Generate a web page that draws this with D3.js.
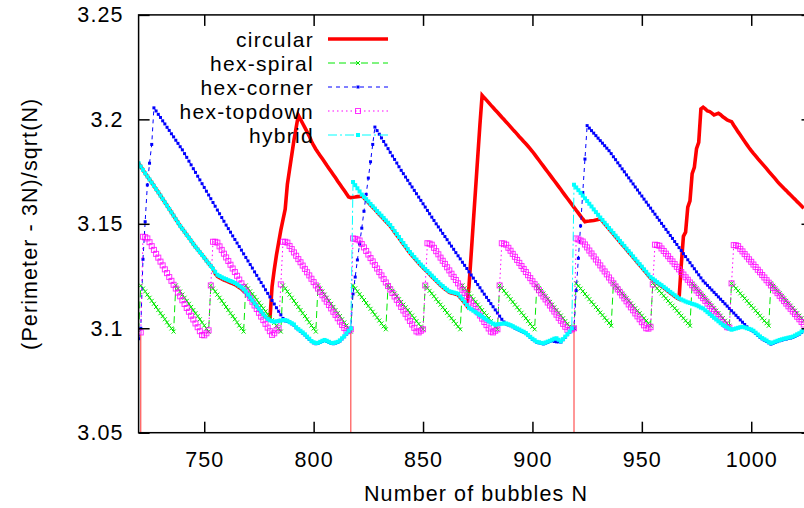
<!DOCTYPE html>
<html>
<head>
<meta charset="utf-8">
<script src="https://cdn.jsdelivr.net/npm/d3@7/dist/d3.min.js"></script>
<style>
html,body{margin:0;padding:0;background:#fff;}
svg{display:block;}
</style>
</head>
<body>
<svg id="chart" width="804" height="508"></svg>
<script>
// N runs from nStart, one value per integer N
const nStart = 720;

const circular = [
3.1790,3.1774,3.1758,3.1742,3.1727,3.1712,3.1697,3.1682,3.1666,3.1651,
3.1635,3.1619,3.1603,3.1587,3.1571,3.1555,3.1539,3.1522,3.1506,3.1490,
3.1476,3.1462,3.1447,3.1433,3.1419,3.1404,3.1390,3.1377,3.1364,3.1351,
3.1338,3.1324,3.1311,3.1298,3.1285,3.1262,3.1248,3.1242,3.1236,3.1231,
3.1227,3.1222,3.1218,3.1214,3.1209,3.1202,3.1195,3.1188,3.1178,3.1170,
3.1158,3.1145,3.1132,3.1118,3.1105,3.1092,3.1079,3.1066,3.1055,3.1045,
3.1040,3.1200,3.1280,3.1350,3.1410,3.1470,3.1520,3.1570,3.1690,3.1760,
3.1830,3.1900,3.1960,3.2020,3.2000,3.1980,3.1960,3.1940,3.1920,3.1895,
3.1875,3.1857,3.1841,3.1826,3.1811,3.1796,3.1780,3.1765,3.1750,3.1735,
3.1720,3.1704,3.1689,3.1674,3.1659,3.1644,3.1628,3.1625,3.1627,3.1628,
3.1630,3.1631,3.1633,3.1624,3.1613,3.1602,3.1590,3.1579,3.1568,3.1556,
3.1545,3.1534,3.1523,3.1511,3.1500,3.1489,3.1475,3.1460,3.1446,3.1432,
3.1417,3.1403,3.1389,3.1374,3.1360,3.1348,3.1336,3.1324,3.1312,3.1300,
3.1290,3.1279,3.1269,3.1258,3.1247,3.1237,3.1226,3.1216,3.1205,3.1197,
3.1188,3.1180,3.1172,3.1169,3.1166,3.1163,3.1160,3.1147,3.1135,3.1121,
3.1107,3.1200,3.1355,3.1510,3.1665,3.1820,3.1975,3.2115,3.2103,3.2092,
3.2080,3.2068,3.2057,3.2045,3.2034,3.2022,3.2010,3.1999,3.1987,3.1976,
3.1964,3.1952,3.1941,3.1929,3.1917,3.1906,3.1894,3.1883,3.1871,3.1859,
3.1846,3.1832,3.1818,3.1804,3.1790,3.1776,3.1762,3.1748,3.1734,3.1720,
3.1706,3.1692,3.1678,3.1664,3.1649,3.1635,3.1621,3.1607,3.1593,3.1579,
3.1565,3.1551,3.1537,3.1523,3.1510,3.1512,3.1513,3.1515,3.1516,3.1518,
3.1520,3.1525,3.1513,3.1500,3.1488,3.1475,3.1463,3.1451,3.1438,3.1426,
3.1413,3.1401,3.1389,3.1376,3.1364,3.1352,3.1339,3.1327,3.1314,3.1302,
3.1290,3.1277,3.1265,3.1252,3.1240,3.1232,3.1224,3.1216,3.1208,3.1201,
3.1193,3.1185,3.1177,3.1169,3.1161,3.1153,3.1145,3.1140,3.1300,3.1440,
3.1460,3.1580,3.1610,3.1740,3.1770,3.1860,3.1890,3.2050,3.2058,3.2050,
3.2040,3.2037,3.2030,3.2021,3.2025,3.2029,3.2022,3.2012,3.2005,3.1997,
3.1993,3.1989,3.1972,3.1956,3.1940,3.1925,3.1909,3.1894,3.1879,3.1864,
3.1850,3.1837,3.1825,3.1812,3.1800,3.1788,3.1776,3.1764,3.1751,3.1739,
3.1727,3.1715,3.1702,3.1690,3.1680,3.1669,3.1659,3.1648,3.1638,3.1627,
3.1617,3.1606,3.1596,3.1585,3.1574
];

const hexSpiral = [
3.0990,3.1205,3.1190,3.1176,3.1161,3.1146,3.1131,3.1117,3.1102,3.1087,
3.1072,3.1058,3.1043,3.1028,3.1013,3.0999,3.0984,3.1205,3.1190,3.1176,
3.1161,3.1146,3.1131,3.1117,3.1102,3.1087,3.1072,3.1058,3.1043,3.1028,
3.1013,3.0999,3.0984,3.1205,3.1190,3.1176,3.1161,3.1146,3.1131,3.1117,
3.1102,3.1087,3.1072,3.1058,3.1043,3.1028,3.1013,3.0999,3.0984,3.1205,
3.1191,3.1177,3.1164,3.1150,3.1136,3.1122,3.1108,3.1095,3.1081,3.1067,
3.1053,3.1039,3.1026,3.1012,3.0998,3.0984,3.1205,3.1190,3.1176,3.1161,
3.1146,3.1131,3.1117,3.1102,3.1087,3.1072,3.1058,3.1043,3.1028,3.1013,
3.0999,3.0984,3.1205,3.1190,3.1176,3.1161,3.1146,3.1131,3.1117,3.1102,
3.1087,3.1072,3.1058,3.1043,3.1028,3.1013,3.0999,3.0984,3.1205,3.1191,
3.1177,3.1163,3.1149,3.1135,3.1121,3.1107,3.1093,3.1079,3.1065,3.1051,
3.1037,3.1023,3.1009,3.0995,3.1205,3.1192,3.1179,3.1166,3.1153,3.1139,
3.1126,3.1113,3.1100,3.1087,3.1074,3.1061,3.1048,3.1034,3.1021,3.1008,
3.0995,3.1205,3.1192,3.1179,3.1166,3.1153,3.1139,3.1126,3.1113,3.1100,
3.1087,3.1074,3.1061,3.1048,3.1034,3.1021,3.1008,3.0995,3.1205,3.1192,
3.1179,3.1166,3.1153,3.1139,3.1126,3.1113,3.1100,3.1087,3.1074,3.1061,
3.1048,3.1034,3.1021,3.1008,3.0995,3.1205,3.1192,3.1179,3.1166,3.1153,
3.1139,3.1126,3.1113,3.1100,3.1087,3.1074,3.1061,3.1048,3.1034,3.1021,
3.1008,3.0995,3.1205,3.1192,3.1179,3.1166,3.1153,3.1139,3.1126,3.1113,
3.1100,3.1087,3.1074,3.1061,3.1048,3.1034,3.1021,3.1008,3.0995,3.1000,
3.1215,3.1202,3.1190,3.1177,3.1164,3.1152,3.1139,3.1126,3.1113,3.1101,
3.1088,3.1075,3.1063,3.1050,3.1037,3.1025,3.1012,3.1215,3.1203,3.1191,
3.1179,3.1167,3.1155,3.1143,3.1131,3.1119,3.1108,3.1096,3.1084,3.1072,
3.1060,3.1048,3.1036,3.1024,3.1012,3.1215,3.1203,3.1191,3.1179,3.1167,
3.1155,3.1143,3.1131,3.1119,3.1108,3.1096,3.1084,3.1072,3.1060,3.1048,
3.1036,3.1024,3.1012,3.1215,3.1203,3.1191,3.1179,3.1167,3.1155,3.1143,
3.1131,3.1119,3.1108,3.1096,3.1084,3.1072,3.1060,3.1048,3.1036,3.1024,
3.1012,3.1215,3.1203,3.1191,3.1179,3.1167,3.1155,3.1143,3.1131,3.1119,
3.1108,3.1096,3.1084,3.1072,3.1060,3.1048,3.1036,3.1024,3.1012,3.1215,
3.1203,3.1191,3.1179,3.1167,3.1155,3.1143,3.1131,3.1119,3.1108,3.1096,
3.1084,3.1072,3.1060,3.1048,3.1036
];

const hexCorner = [
3.0950,3.1000,3.1330,3.1510,3.1686,3.1790,3.1880,3.2055,3.2040,3.2024,
3.2009,3.1993,3.1978,3.1962,3.1947,3.1931,3.1916,3.1900,3.1885,3.1869,
3.1854,3.1836,3.1818,3.1800,3.1782,3.1764,3.1746,3.1728,3.1710,3.1692,
3.1674,3.1656,3.1638,3.1620,3.1602,3.1584,3.1566,3.1548,3.1530,3.1512,
3.1494,3.1477,3.1460,3.1442,3.1425,3.1408,3.1391,3.1374,3.1356,3.1339,
3.1322,3.1305,3.1288,3.1270,3.1253,3.1236,3.1219,3.1202,3.1184,3.1167,
3.1150,3.1133,3.1116,3.1098,3.1081,3.1064,3.1047,3.1035,3.1033,3.1027,
3.1021,3.1015,3.1002,3.0993,3.0985,3.0977,3.0968,3.0957,3.0947,3.0936,
3.0930,3.0926,3.0927,3.0932,3.0937,3.0941,3.0937,3.0932,3.0927,3.0926,
3.0929,3.0932,3.0939,3.0949,3.0959,3.0972,3.0985,3.1000,3.1164,3.1245,
3.1327,3.1403,3.1479,3.1560,3.1641,3.1719,3.1797,3.1880,3.1963,3.1946,
3.1929,3.1911,3.1894,3.1877,3.1860,3.1842,3.1825,3.1808,3.1791,3.1773,
3.1756,3.1740,3.1724,3.1708,3.1692,3.1676,3.1660,3.1644,3.1628,3.1612,
3.1596,3.1580,3.1564,3.1548,3.1532,3.1516,3.1500,3.1485,3.1470,3.1454,
3.1439,3.1424,3.1408,3.1393,3.1378,3.1362,3.1347,3.1332,3.1316,3.1301,
3.1286,3.1270,3.1255,3.1240,3.1224,3.1209,3.1194,3.1178,3.1163,3.1148,
3.1133,3.1118,3.1103,3.1088,3.1073,3.1058,3.1043,3.1030,3.1020,3.1016,
3.1012,3.1007,3.1001,3.0996,3.0991,3.0985,3.0980,3.0974,3.0965,3.0956,
3.0947,3.0940,3.0932,3.0930,3.0927,3.0925,3.0929,3.0933,3.0937,3.0940,
3.0937,3.0935,3.0935,3.0934,3.0945,3.0957,3.0969,3.0981,3.0997,3.1000,
3.1180,3.1335,3.1490,3.1650,3.1810,3.1970,3.1958,3.1946,3.1934,3.1922,
3.1910,3.1898,3.1886,3.1874,3.1862,3.1850,3.1836,3.1821,3.1807,3.1792,
3.1778,3.1763,3.1749,3.1734,3.1720,3.1705,3.1691,3.1676,3.1662,3.1647,
3.1633,3.1618,3.1604,3.1589,3.1575,3.1560,3.1546,3.1531,3.1517,3.1502,
3.1488,3.1473,3.1459,3.1444,3.1430,3.1415,3.1401,3.1386,3.1372,3.1357,
3.1343,3.1328,3.1314,3.1299,3.1285,3.1270,3.1256,3.1241,3.1227,3.1216,
3.1205,3.1194,3.1183,3.1172,3.1161,3.1150,3.1139,3.1128,3.1117,3.1106,
3.1095,3.1084,3.1073,3.1062,3.1051,3.1040,3.1029,3.1018,3.1007,3.0996,
3.0991,3.0984,3.0975,3.0966,3.0957,3.0949,3.0943,3.0937,3.0930,3.0924,
3.0928,3.0932,3.0936,3.0940,3.0943,3.0946,3.0948,3.0951,3.0953,3.0956,
3.0961,3.0967,3.0972,3.0980,3.0988
];

const hexTopdown = [
3.0985,3.0980,3.1438,3.1436,3.1430,3.1412,3.1393,3.1375,3.1356,3.1338,
3.1319,3.1301,3.1282,3.1264,3.1245,3.1227,3.1208,3.1190,3.1171,3.1153,
3.1134,3.1116,3.1097,3.1079,3.1060,3.1042,3.1023,3.1005,3.0986,3.0968,
3.0966,3.0976,3.0990,3.1205,3.1414,3.1414,3.1410,3.1392,3.1375,3.1357,
3.1339,3.1322,3.1304,3.1286,3.1269,3.1251,3.1233,3.1215,3.1198,3.1180,
3.1162,3.1145,3.1127,3.1109,3.1092,3.1074,3.1056,3.1039,3.1021,3.1003,
3.0986,3.0968,3.0976,3.0990,3.1000,3.1210,3.1414,3.1414,3.1410,3.1394,
3.1379,3.1363,3.1347,3.1331,3.1316,3.1300,3.1284,3.1268,3.1253,3.1237,
3.1221,3.1205,3.1190,3.1174,3.1158,3.1142,3.1127,3.1111,3.1095,3.1079,
3.1064,3.1048,3.1032,3.1016,3.1001,3.0985,3.0988,3.0995,3.1430,3.1428,
3.1425,3.1420,3.1403,3.1387,3.1370,3.1353,3.1336,3.1320,3.1303,3.1286,
3.1269,3.1253,3.1236,3.1219,3.1202,3.1186,3.1169,3.1152,3.1136,3.1119,
3.1102,3.1085,3.1069,3.1052,3.1035,3.1018,3.1002,3.0985,3.0980,3.0988,
3.0995,3.1205,3.1407,3.1405,3.1400,3.1385,3.1369,3.1354,3.1338,3.1323,
3.1308,3.1292,3.1277,3.1261,3.1246,3.1231,3.1215,3.1200,3.1184,3.1169,
3.1154,3.1138,3.1123,3.1107,3.1092,3.1077,3.1061,3.1046,3.1030,3.1015,
3.0999,3.0984,3.0980,3.0988,3.0995,3.1205,3.1407,3.1405,3.1400,3.1385,
3.1371,3.1356,3.1342,3.1327,3.1313,3.1298,3.1284,3.1269,3.1254,3.1240,
3.1225,3.1211,3.1196,3.1182,3.1167,3.1152,3.1138,3.1123,3.1109,3.1094,
3.1080,3.1065,3.1050,3.1036,3.1021,3.1007,3.0992,3.0990,3.0995,3.1000,
3.1430,3.1425,3.1420,3.1415,3.1401,3.1387,3.1372,3.1358,3.1344,3.1329,
3.1315,3.1301,3.1286,3.1272,3.1258,3.1243,3.1229,3.1215,3.1200,3.1186,
3.1172,3.1157,3.1143,3.1129,3.1114,3.1100,3.1086,3.1071,3.1057,3.1043,
3.1029,3.1014,3.1000,3.0998,3.1005,3.1210,3.1400,3.1398,3.1395,3.1382,
3.1370,3.1357,3.1345,3.1332,3.1320,3.1307,3.1294,3.1282,3.1269,3.1257,
3.1244,3.1232,3.1219,3.1206,3.1194,3.1181,3.1169,3.1156,3.1144,3.1131,
3.1118,3.1106,3.1093,3.1081,3.1068,3.1056,3.1043,3.1030,3.1018,3.1005,
3.1003,3.1215,3.1398,3.1397,3.1393,3.1380,3.1368,3.1355,3.1343,3.1330,
3.1318,3.1305,3.1293,3.1280,3.1268,3.1255,3.1243,3.1230,3.1218,3.1205,
3.1193,3.1180,3.1168,3.1155,3.1143,3.1130,3.1118,3.1105,3.1093,3.1080,
3.1068,3.1055,3.1043,3.1030,3.1018
];

const hybrid = [
3.1790,3.1774,3.1758,3.1742,3.1727,3.1712,3.1697,3.1682,3.1666,3.1651,
3.1635,3.1619,3.1603,3.1587,3.1571,3.1555,3.1539,3.1522,3.1506,3.1490,
3.1476,3.1462,3.1447,3.1433,3.1419,3.1404,3.1390,3.1377,3.1364,3.1351,
3.1338,3.1324,3.1311,3.1298,3.1285,3.1270,3.1256,3.1250,3.1244,3.1239,
3.1235,3.1230,3.1226,3.1222,3.1217,3.1210,3.1203,3.1196,3.1186,3.1175,
3.1161,3.1147,3.1133,3.1119,3.1106,3.1093,3.1080,3.1067,3.1056,3.1045,
3.1038,3.1034,3.1031,3.1033,3.1035,3.1037,3.1039,3.1039,3.1036,3.1030,
3.1024,3.1018,3.1005,3.0996,3.0988,3.0980,3.0971,3.0960,3.0950,3.0939,
3.0933,3.0929,3.0930,3.0935,3.0940,3.0944,3.0940,3.0935,3.0930,3.0929,
3.0932,3.0935,3.0942,3.0952,3.0962,3.0975,3.0988,3.1000,3.1700,3.1685,
3.1670,3.1655,3.1640,3.1629,3.1618,3.1607,3.1595,3.1584,3.1573,3.1561,
3.1550,3.1539,3.1528,3.1516,3.1505,3.1494,3.1480,3.1465,3.1451,3.1437,
3.1422,3.1408,3.1394,3.1379,3.1365,3.1353,3.1341,3.1329,3.1317,3.1305,
3.1295,3.1284,3.1274,3.1263,3.1252,3.1242,3.1231,3.1221,3.1210,3.1202,
3.1193,3.1185,3.1177,3.1174,3.1171,3.1168,3.1165,3.1152,3.1140,3.1126,
3.1112,3.1098,3.1091,3.1084,3.1077,3.1070,3.1063,3.1056,3.1048,3.1041,
3.1033,3.1028,3.1022,3.1017,3.1019,3.1020,3.1022,3.1023,3.1023,3.1019,
3.1015,3.1010,3.1004,3.0999,3.0994,3.0988,3.0983,3.0977,3.0968,3.0959,
3.0950,3.0943,3.0935,3.0933,3.0930,3.0928,3.0932,3.0936,3.0940,3.0945,
3.0950,3.0952,3.0945,3.0937,3.0948,3.0960,3.0972,3.0984,3.1000,3.1687,
3.1674,3.1661,3.1648,3.1635,3.1622,3.1609,3.1596,3.1583,3.1569,3.1556,
3.1543,3.1530,3.1518,3.1505,3.1493,3.1480,3.1468,3.1456,3.1443,3.1431,
3.1418,3.1406,3.1394,3.1381,3.1369,3.1357,3.1344,3.1332,3.1319,3.1307,
3.1295,3.1282,3.1270,3.1257,3.1245,3.1237,3.1229,3.1221,3.1213,3.1206,
3.1198,3.1190,3.1182,3.1174,3.1166,3.1158,3.1150,3.1143,3.1138,3.1133,
3.1128,3.1124,3.1121,3.1117,3.1114,3.1110,3.1105,3.1099,3.1095,3.1086,
3.1077,3.1068,3.1059,3.1050,3.1042,3.1033,3.1024,3.1016,3.1010,3.1004,
3.0998,3.0993,3.0996,3.0999,3.1002,3.1005,3.1007,3.1004,3.1000,3.0997,
3.0994,3.0988,3.0979,3.0970,3.0961,3.0953,3.0947,3.0941,3.0934,3.0928,
3.0932,3.0936,3.0940,3.0944,3.0947,3.0950,3.0952,3.0955,3.0957,3.0960,
3.0965,3.0971,3.0976,3.0984,3.0992
];

// completed hexagons: circular drops below the visible range there
const hexNumbers = [721, 817, 919];
const hexNumberValues = [3.097, 3.0995, 3.1];

const xTickValues = [750, 800, 850, 900, 950, 1000];
const yTickValues = [3.05, 3.1, 3.15, 3.2, 3.25];
const seriesNames = ["circular", "hex-spiral", "hex-corner", "hex-topdown", "hybrid"];
const xDomain = [720, 1028];
const yDomain = [3.05, 3.25];
const xTitle = "Number of bubbles N";
const yTitle = "(Perimeter - 3N)/sqrt(N)";

// ---------------- drawing ----------------
const FONT = "'Liberation Sans', Arial, Helvetica, sans-serif";
const FS = 21.5, LS = 1.1;          // axis texts
const KFS = 21, KLS = 1.3;          // key texts
const svg = d3.select("#chart");
svg.append("rect").attr("width", 804).attr("height", 508).attr("fill", "#fff");

const x = d3.scaleLinear().domain(xDomain).range([138.6, 812.5]);
const y = d3.scaleLinear().domain(yDomain).range([432.7, 14.9]);

svg.append("defs").append("clipPath").attr("id", "plotclip").append("rect")
  .attr("x", x(xDomain[0])).attr("y", y(yDomain[1]))
  .attr("width", x(xDomain[1]) - x(xDomain[0]))
  .attr("height", y(yDomain[0]) - y(yDomain[1]));

const styles = [
  {color: "#ff0000", width: 3.6, dash: null, marker: "none"},
  {color: "#00e800", width: 1, dash: "7,4", marker: "x"},
  {color: "#0000ff", width: 1, dash: "4,4", marker: "dot"},
  {color: "#ff00ff", width: 1, dash: "1.5,3", marker: "box"},
  {color: "#00ffff", width: 1, dash: "9,3,2,3", marker: "fbox"}
];
const seriesValues = [circular, hexSpiral, hexCorner, hexTopdown, hybrid];
const series = seriesNames.map((name, i) => ({
  name,
  points: seriesValues[i].map((v, j) => ({n: nStart + j, v})),
  ...styles[i]
}));

function drawMarkers(g, pts, s) {
  if (s.marker === "x") {
    g.selectAll(null).data(pts).join("path")
      .attr("d", p => `M${p[0]-2},${p[1]-2}L${p[0]+2},${p[1]+2}M${p[0]-2},${p[1]+2}L${p[0]+2},${p[1]-2}`)
      .attr("stroke", s.color).attr("stroke-width", 1).attr("fill", "none");
  } else if (s.marker === "dot") {
    g.selectAll(null).data(pts).join("rect")
      .attr("x", p => p[0] - 1.5).attr("y", p => p[1] - 1.5)
      .attr("width", 3).attr("height", 3).attr("fill", s.color);
  } else if (s.marker === "box") {
    g.selectAll(null).data(pts).join("rect")
      .attr("x", p => p[0] - 2.5).attr("y", p => p[1] - 2.5)
      .attr("width", 5).attr("height", 5)
      .attr("fill", "none").attr("stroke", s.color).attr("stroke-opacity", 0.8).attr("stroke-width", 1);
  } else if (s.marker === "fbox") {
    g.selectAll(null).data(pts).join("rect")
      .attr("x", p => p[0] - 2).attr("y", p => p[1] - 2)
      .attr("width", 4).attr("height", 4).attr("fill", s.color);
  }
}

const line = d3.line().x(d => x(d.n)).y(d => y(d.v));
const plot = svg.append("g").attr("clip-path", "url(#plotclip)");
const legend = svg.append("g");

const keyTextX = 314, keyLineX1 = 328, keyLineX2 = 388, keyY0 = 39, keyDY = 24;

series.forEach((s, i) => {
  // legend entry
  const ky = keyY0 + i * keyDY;
  legend.append("text")
    .attr("x", keyTextX).attr("y", ky).attr("dy", "0.36em")
    .attr("text-anchor", "end")
    .attr("font-family", FONT).attr("font-size", KFS).attr("letter-spacing", KLS)
    .attr("fill", "#000")
    .text(s.name);
  legend.append("line")
    .attr("x1", keyLineX1).attr("x2", keyLineX2).attr("y1", ky).attr("y2", ky)
    .attr("stroke", s.color).attr("stroke-width", s.width)
    .attr("stroke-dasharray", s.dash);
  drawMarkers(legend.append("g"), [[(keyLineX1 + keyLineX2) / 2, ky]], s);

  // data
  if (i === 0) {
    plot.append("g").selectAll("line").data(hexNumbers).join("line")
      .attr("x1", d => x(d)).attr("x2", d => x(d))
      .attr("y1", (d, k) => y(hexNumberValues[k])).attr("y2", y(yDomain[0]))
      .attr("stroke", "#ff3030").attr("stroke-width", 1);
  }
  plot.append("path").datum(s.points)
    .attr("d", line)
    .attr("fill", "none").attr("stroke", s.color)
    .attr("stroke-width", s.width)
    .attr("stroke-linejoin", "miter")
    .attr("stroke-dasharray", s.dash);
  drawMarkers(plot.append("g"), s.points.map(p => [x(p.n), y(p.v)]), s);
});

// axes (ticks inward on all four sides)
const TICK = 11;
const axB = svg.append("g").attr("transform", `translate(0,${y(yDomain[0])})`)
  .call(d3.axisBottom(x).tickValues(xTickValues).tickFormat(d3.format("d"))
    .tickSizeInner(-TICK).tickSizeOuter(0).tickPadding(19));
const axT = svg.append("g").attr("transform", `translate(0,${y(yDomain[1])})`)
  .call(d3.axisTop(x).tickValues(xTickValues).tickFormat("")
    .tickSizeInner(-TICK).tickSizeOuter(0));
const axL = svg.append("g").attr("transform", `translate(${x(xDomain[0])},0)`)
  .call(d3.axisLeft(y).tickValues(yTickValues).tickFormat(d3.format("~g"))
    .tickSizeInner(-TICK).tickSizeOuter(0).tickPadding(15));
const axR = svg.append("g").attr("transform", `translate(${x(xDomain[1])},0)`)
  .call(d3.axisRight(y).tickValues(yTickValues).tickFormat("")
    .tickSizeInner(-TICK).tickSizeOuter(0));
[axB, axT, axL, axR].forEach(a => {
  a.select(".domain").remove();
  a.selectAll(".tick line").attr("stroke", "#000").attr("stroke-width", 1.5);
  a.selectAll(".tick text").attr("font-family", FONT).attr("font-size", FS)
    .attr("letter-spacing", LS).attr("fill", "#000");
});

// frame
svg.append("rect")
  .attr("x", x(xDomain[0])).attr("y", y(yDomain[1]))
  .attr("width", x(xDomain[1]) - x(xDomain[0]))
  .attr("height", y(yDomain[0]) - y(yDomain[1]))
  .attr("fill", "none").attr("stroke", "#000").attr("stroke-width", 1.5);

// titles
svg.append("text")
  .attr("x", 476).attr("y", 501).attr("text-anchor", "middle")
  .attr("font-family", FONT).attr("font-size", FS).attr("letter-spacing", LS).attr("fill", "#000")
  .text(xTitle);
svg.append("text")
  .attr("transform", `translate(37,${(y(yDomain[0]) + y(yDomain[1])) / 2}) rotate(-90)`)
  .attr("text-anchor", "middle")
  .attr("font-family", FONT).attr("font-size", FS).attr("letter-spacing", LS).attr("fill", "#000")
  .text(yTitle);
</script>
</body>
</html>
